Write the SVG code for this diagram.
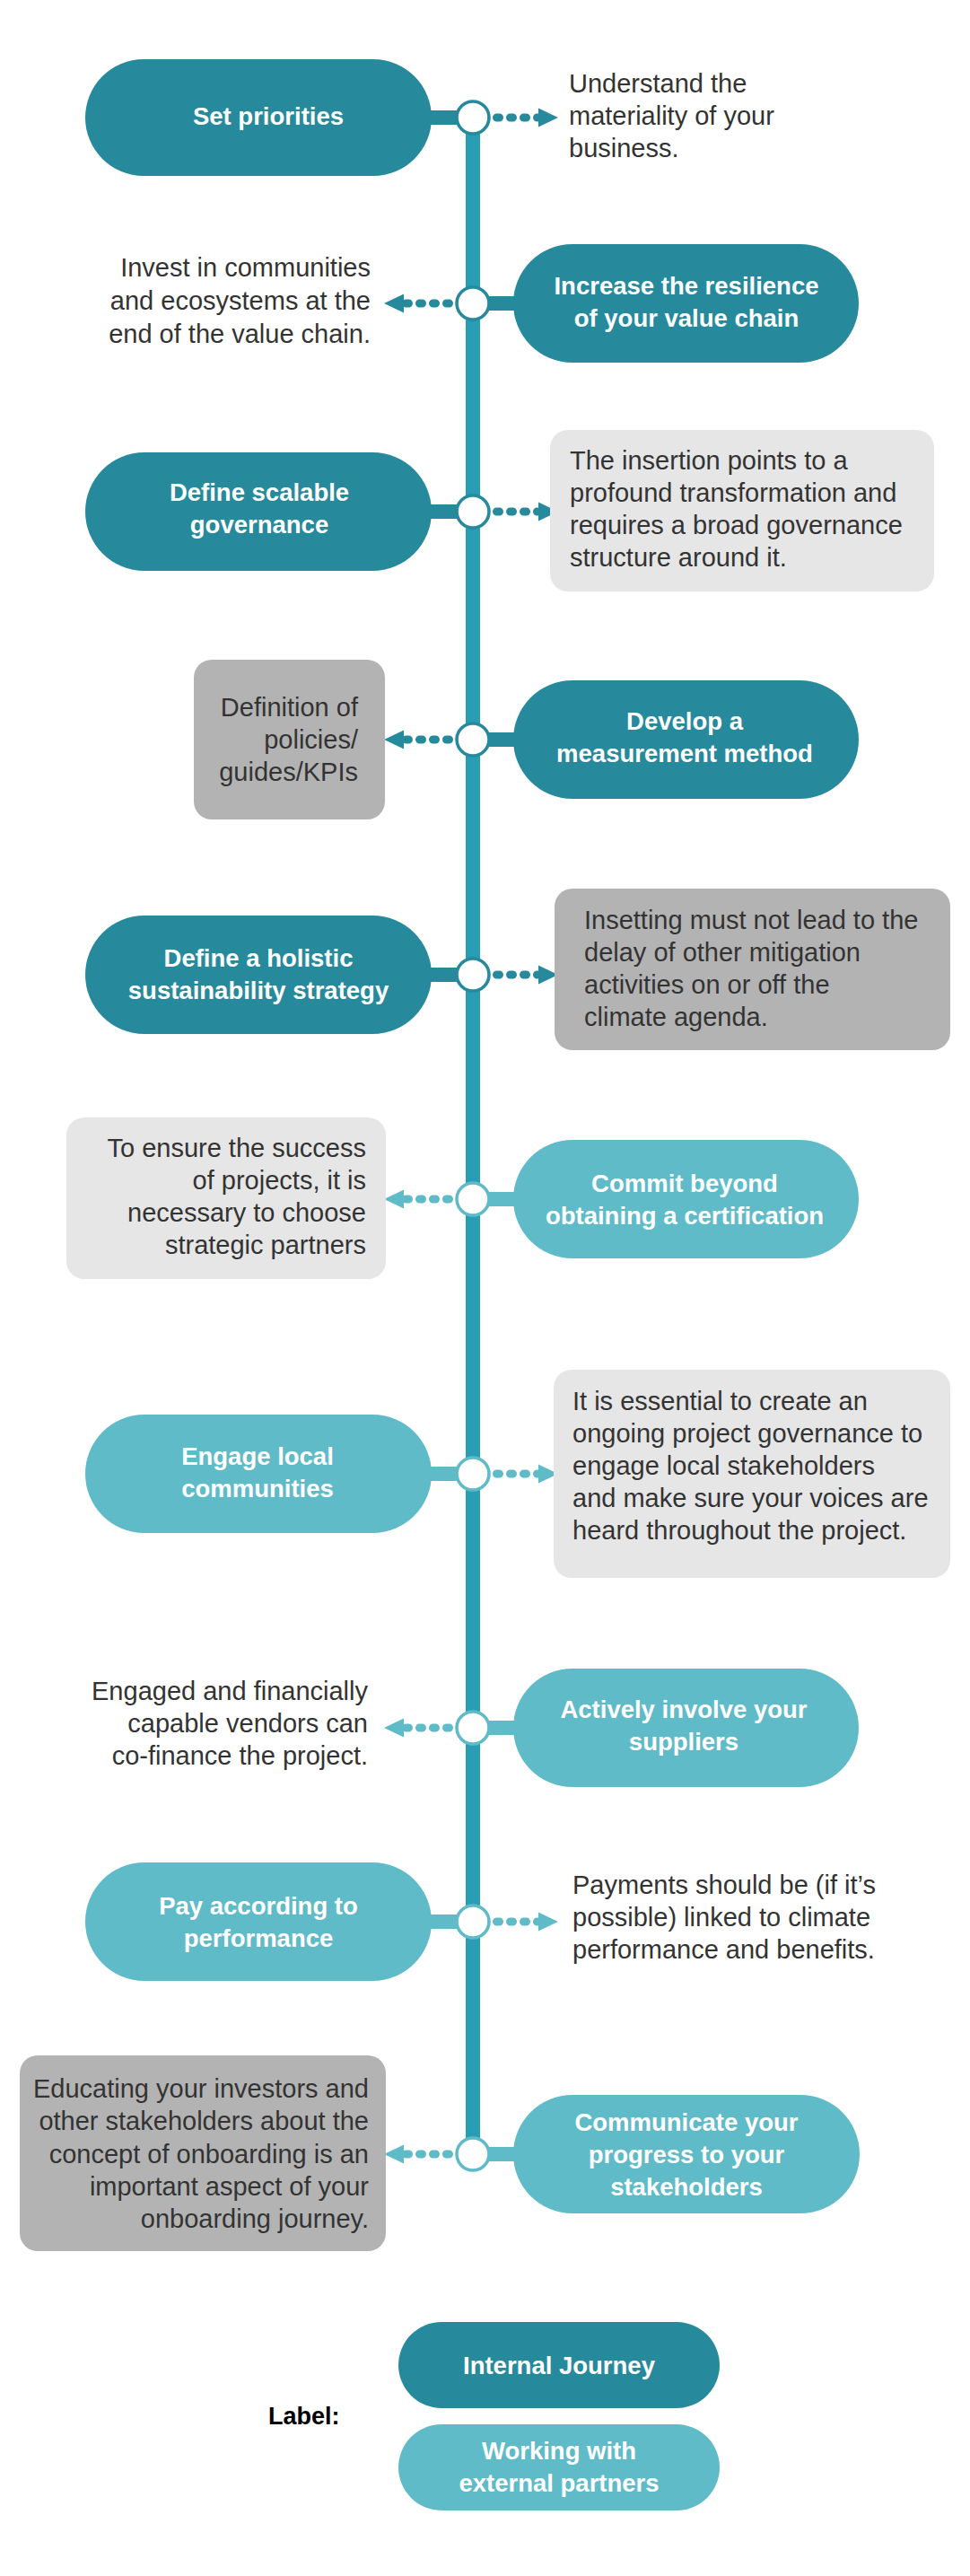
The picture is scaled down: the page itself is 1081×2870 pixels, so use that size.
<svg xmlns="http://www.w3.org/2000/svg" width="1081" height="2870" viewBox="0 0 1081 2870">
<style>
.bg{fill:#ffffff}
.spine{fill:#289db3}
.pd{fill:#268a9c}
.pl{fill:#5fbbc8}
.cd{color:#268a9c}
.cl{color:#5fbbc8}
.ring{fill:#ffffff;stroke:currentColor;stroke-width:3.6}
.bx1{fill:#e6e6e6}
.bx2{fill:#b3b3b3}
text{font-family:"Liberation Sans",Arial,sans-serif}
.t{font-size:29px;fill:#333333}
.tr{text-anchor:end}
.pt{font-size:27.5px;font-weight:bold;fill:#ffffff;text-anchor:middle}
.lab{font-size:27px;font-weight:bold;fill:#000000}
</style>
<defs>
<g id="arR"><line x1="26.5" y1="0" x2="72" y2="0" stroke="currentColor" stroke-width="9" stroke-linecap="round" stroke-dasharray="3 12"/><path d="M73,-10.5 L95,0 L73,10.5 Z" fill="currentColor"/></g>
<g id="arL"><line x1="-26.5" y1="0" x2="-76" y2="0" stroke="currentColor" stroke-width="9" stroke-linecap="round" stroke-dasharray="3 12"/><path d="M-77,-10.5 L-99,0 L-77,10.5 Z" fill="currentColor"/></g>
</defs>
<rect class="bg" x="0" y="0" width="1081" height="2870"/>

<g id="connectors">
<rect class="spine" x="519" y="131" width="16" height="2269"/>
<rect class="pd" x="470" y="123" width="45" height="16"/>
<rect class="pd" x="540" y="330" width="40" height="16"/>
<rect class="pd" x="470" y="562" width="45" height="16"/>
<rect class="pd" x="540" y="816" width="40" height="16"/>
<rect class="pd" x="470" y="1078" width="45" height="16"/>
<rect class="pl" x="540" y="1328" width="40" height="16"/>
<rect class="pl" x="470" y="1634" width="45" height="16"/>
<rect class="pl" x="540" y="1917" width="40" height="16"/>
<rect class="pl" x="470" y="2133" width="45" height="16"/>
<rect class="pl" x="540" y="2392" width="40" height="16"/>
<g class="cd"><circle class="ring" cx="527" cy="131" r="18"/><use href="#arR" x="527" y="131"/></g>
<g class="cd"><circle class="ring" cx="527" cy="338" r="18"/><use href="#arL" x="527" y="338"/></g>
<g class="cd"><circle class="ring" cx="527" cy="570" r="18"/><use href="#arR" x="527" y="570"/></g>
<g class="cd"><circle class="ring" cx="527" cy="824" r="18"/><use href="#arL" x="527" y="824"/></g>
<g class="cd"><circle class="ring" cx="527" cy="1086" r="18"/><use href="#arR" x="527" y="1086"/></g>
<g class="cl"><circle class="ring" cx="527" cy="1336" r="18"/><use href="#arL" x="527" y="1336"/></g>
<g class="cl"><circle class="ring" cx="527" cy="1642" r="18"/><use href="#arR" x="527" y="1642"/></g>
<g class="cl"><circle class="ring" cx="527" cy="1925" r="18"/><use href="#arL" x="527" y="1925"/></g>
<g class="cl"><circle class="ring" cx="527" cy="2141" r="18"/><use href="#arR" x="527" y="2141"/></g>
<g class="cl"><circle class="ring" cx="527" cy="2400" r="18"/><use href="#arL" x="527" y="2400"/></g>
</g>

<g id="n1">
<rect class="pd" x="95" y="66" width="386" height="130" rx="65"/>
<text class="pt" x="299" y="139">Set priorities</text>
</g>
<g id="n1-note">
<text class="t" x="634" y="103">Understand the</text>
<text class="t" x="634" y="139">materiality of your</text>
<text class="t" x="634" y="175">business.</text>
</g>

<g id="n2">
<rect class="pd" x="572" y="272" width="385" height="132" rx="66"/>
<text class="pt" x="765" y="328">Increase the resilience</text>
<text class="pt" x="765" y="364">of your value chain</text>
</g>
<g id="n2-note">
<text class="t tr" x="413" y="308">Invest in communities</text>
<text class="t tr" x="413" y="345">and ecosystems at the</text>
<text class="t tr" x="413" y="382">end of the value chain.</text>
</g>

<g id="n3">
<rect class="pd" x="95" y="504" width="386" height="132" rx="66"/>
<text class="pt" x="289" y="558">Define scalable</text>
<text class="pt" x="289" y="594">governance</text>
</g>
<g id="n3-note">
<rect class="bx1" x="613" y="479" width="428" height="180" rx="20"/>
<text class="t" x="635" y="523">The insertion points to a</text>
<text class="t" x="635" y="559">profound transformation and</text>
<text class="t" x="635" y="595">requires a broad governance</text>
<text class="t" x="635" y="631">structure around it.</text>
</g>

<g id="n4">
<rect class="pd" x="572" y="758" width="385" height="132" rx="66"/>
<text class="pt" x="763" y="813">Develop a</text>
<text class="pt" x="763" y="849">measurement method</text>
</g>
<g id="n4-note">
<rect class="bx2" x="216" y="735" width="213" height="178" rx="20"/>
<text class="t tr" x="399" y="798">Definition of</text>
<text class="t tr" x="399" y="834">policies/</text>
<text class="t tr" x="399" y="870">guides/KPIs</text>
</g>

<g id="n5">
<rect class="pd" x="95" y="1020" width="386" height="132" rx="66"/>
<text class="pt" x="288" y="1077">Define a holistic</text>
<text class="pt" x="288" y="1113">sustainability strategy</text>
</g>
<g id="n5-note">
<rect class="bx2" x="618" y="990" width="441" height="180" rx="20"/>
<text class="t" x="651" y="1035">Insetting must not lead to the</text>
<text class="t" x="651" y="1071">delay of other mitigation</text>
<text class="t" x="651" y="1107">activities on or off the</text>
<text class="t" x="651" y="1143">climate agenda.</text>
</g>

<g id="n6">
<rect class="pl" x="572" y="1270" width="385" height="132" rx="66"/>
<text class="pt" x="763" y="1328">Commit beyond</text>
<text class="pt" x="763" y="1364">obtaining a certification</text>
</g>
<g id="n6-note">
<rect class="bx1" x="74" y="1245" width="356" height="180" rx="20"/>
<text class="t tr" x="408" y="1289">To ensure the success</text>
<text class="t tr" x="408" y="1325">of projects, it is</text>
<text class="t tr" x="408" y="1361">necessary to choose</text>
<text class="t tr" x="408" y="1397">strategic partners</text>
</g>

<g id="n7">
<rect class="pl" x="95" y="1576" width="386" height="132" rx="66"/>
<text class="pt" x="287" y="1632">Engage local</text>
<text class="pt" x="287" y="1668">communities</text>
</g>
<g id="n7-note">
<rect class="bx1" x="617" y="1526" width="442" height="232" rx="20"/>
<text class="t" x="638" y="1571">It is essential to create an</text>
<text class="t" x="638" y="1607">ongoing project governance to</text>
<text class="t" x="638" y="1643">engage local stakeholders</text>
<text class="t" x="638" y="1679">and make sure your voices are</text>
<text class="t" x="638" y="1715">heard throughout the project.</text>
</g>

<g id="n8">
<rect class="pl" x="572" y="1859" width="385" height="132" rx="66"/>
<text class="pt" x="762" y="1914">Actively involve your</text>
<text class="pt" x="762" y="1950">suppliers</text>
</g>
<g id="n8-note">
<text class="t tr" x="410" y="1894">Engaged and financially</text>
<text class="t tr" x="410" y="1930">capable vendors can</text>
<text class="t tr" x="410" y="1966">co-finance the project.</text>
</g>

<g id="n9">
<rect class="pl" x="95" y="2075" width="386" height="132" rx="66"/>
<text class="pt" x="288" y="2133">Pay according to</text>
<text class="pt" x="288" y="2169">performance</text>
</g>
<g id="n9-note">
<text class="t" x="638" y="2110">Payments should be (if it’s</text>
<text class="t" x="638" y="2146">possible) linked to climate</text>
<text class="t" x="638" y="2182">performance and benefits.</text>
</g>

<g id="n10">
<rect class="pl" x="572" y="2334" width="386" height="132" rx="66"/>
<text class="pt" x="765" y="2374">Communicate your</text>
<text class="pt" x="765" y="2410">progress to your</text>
<text class="pt" x="765" y="2446">stakeholders</text>
</g>
<g id="n10-note">
<rect class="bx2" x="22" y="2290" width="408" height="218" rx="20"/>
<text class="t tr" x="411" y="2337">Educating your investors and</text>
<text class="t tr" x="411" y="2373">other stakeholders about the</text>
<text class="t tr" x="411" y="2410">concept of onboarding is an</text>
<text class="t tr" x="411" y="2446">important aspect of your</text>
<text class="t tr" x="411" y="2482">onboarding journey.</text>
</g>

<g id="legend">
<text class="lab" x="299" y="2701">Label:</text>
<g id="legend-internal">
<rect class="pd" x="444" y="2587" width="358" height="96" rx="48"/>
<text class="pt" x="623" y="2645">Internal Journey</text>
</g>
<g id="legend-external">
<rect class="pl" x="444" y="2701" width="358" height="96" rx="48"/>
<text class="pt" x="623" y="2740">Working with</text>
<text class="pt" x="623" y="2776">external partners</text>
</g>
</g>
</svg>
